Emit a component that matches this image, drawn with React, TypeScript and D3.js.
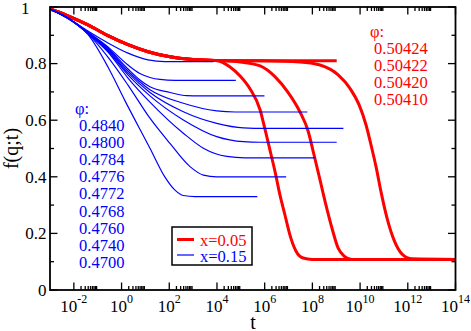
import React from "react";
import * as d3 from "d3";

const W = 471, H = 331;
const X0 = 50, X1 = 455.5, Y0 = 7, Y1 = 290;

// axis ticks
const yMajor = [0, 0.2, 0.4, 0.6, 0.8, 1];
const yTickLabels = ["0", "0.2", "0.4", "0.6", "0.8", "1"];
const yMinor = [0.1, 0.3, 0.5, 0.7, 0.9];
const xMajorExp = [-2, 0, 2, 4, 6, 8, 10, 12, 14];

// legend texts
const bluePhi = ["0.4840", "0.4800", "0.4784", "0.4776", "0.4772", "0.4768", "0.4760", "0.4740", "0.4700"];
const redPhi = ["0.50424", "0.50422", "0.50420", "0.50410"];

// data: [log10 t, f(q;t)]
// x = 0.05 (red)
const redShort: [number, number][] = [[-3, 0.993], [-2.25, 0.969], [-1.41, 0.937], [-0.57, 0.899], [0.27, 0.867], [1.11, 0.842], [2.03, 0.824], [2.87, 0.815], [3.96, 0.811]];
const red50424: [number, number][] = [[6.5, 0.810], [9.02, 0.810]];
const red50422: [number, number][] = [[5.5, 0.810], [7.48, 0.806], [8.32, 0.795], [9.08, 0.760], [9.58, 0.712], [9.96, 0.654], [10.25, 0.583], [10.46, 0.512], [10.67, 0.435], [10.88, 0.346], [11.13, 0.254], [11.42, 0.177], [11.76, 0.127], [12.18, 0.110], [14, 0.108]];
const red50420: [number, number][] = [[4.97, 0.806], [5.81, 0.792], [6.43, 0.754], [6.98, 0.698], [7.48, 0.629], [7.82, 0.562], [8.07, 0.477], [8.32, 0.389], [8.57, 0.300], [8.82, 0.219], [9.08, 0.148], [9.33, 0.120], [9.66, 0.108], [14, 0.108]];
const red50410: [number, number][] = [[4.55, 0.788], [4.97, 0.756], [5.39, 0.710], [5.81, 0.636], [6.01, 0.569], [6.22, 0.495], [6.43, 0.420], [6.64, 0.336], [6.85, 0.265], [7.06, 0.194], [7.31, 0.138], [7.61, 0.113], [7.99, 0.108], [14, 0.108]];

// x = 0.15 (blue)
const blue4840: [number, number][] = [[-3, 0.993], [-2.25, 0.961], [-1.41, 0.915], [-0.57, 0.873], [0.27, 0.837], [1.11, 0.813], [1.82, 0.807], [3.85, 0.807]];
const blue4800: [number, number][] = [[-3, 0.993], [-2.25, 0.961], [-1.41, 0.912], [-0.57, 0.859], [0.27, 0.795], [0.77, 0.765], [1.19, 0.751], [1.61, 0.744], [2.24, 0.741], [4.79, 0.741]];
const blue4784: [number, number][] = [[-3, 0.993], [-2.25, 0.961], [-1.41, 0.910], [-0.57, 0.855], [0.27, 0.781], [0.77, 0.742], [1.19, 0.718], [2.03, 0.698], [2.73, 0.687], [3.29, 0.686], [5.99, 0.686]];
const blue4776: [number, number][] = [[-3, 0.993], [-2.25, 0.961], [-1.41, 0.908], [-0.57, 0.852], [0.27, 0.774], [1.19, 0.708], [2.59, 0.660], [3.99, 0.633], [4.76, 0.629], [7.79, 0.629]];
const blue4772: [number, number][] = [[-3, 0.993], [-2.25, 0.961], [-1.41, 0.908], [-0.57, 0.848], [0.27, 0.767], [1.19, 0.698], [2.59, 0.630], [3.99, 0.589], [5.11, 0.573], [6.02, 0.571], [9.30, 0.571]];
const blue4768: [number, number][] = [[-3, 0.993], [-2.25, 0.961], [-1.41, 0.908], [-0.57, 0.845], [0.27, 0.760], [1.19, 0.686], [2.59, 0.601], [3.99, 0.542], [5.11, 0.524], [5.81, 0.522], [9.02, 0.522]];
const blue4760: [number, number][] = [[-3, 0.993], [-2.25, 0.961], [-1.41, 0.906], [-0.57, 0.841], [0.27, 0.749], [1.19, 0.664], [2.59, 0.554], [3.43, 0.501], [4.41, 0.472], [5.18, 0.467], [8.12, 0.467]];
const blue4740: [number, number][] = [[-3, 0.993], [-2.25, 0.959], [-1.41, 0.905], [-0.57, 0.823], [0.27, 0.724], [1.19, 0.607], [2.03, 0.518], [2.87, 0.436], [3.43, 0.406], [3.99, 0.400], [6.90, 0.400]];
const blue4700: [number, number][] = [[-3, 0.993], [-2.25, 0.959], [-1.41, 0.903], [-0.57, 0.788], [0.13, 0.671], [1.19, 0.501], [1.82, 0.399], [2.24, 0.353], [2.59, 0.334], [3.08, 0.330], [5.69, 0.330]];

const redCurves = [
  redShort.concat(red50424),
  redShort.concat(red50422),
  redShort.concat(red50420),
  redShort.concat(red50410),
];
const blueCurves = [blue4840, blue4800, blue4784, blue4776, blue4772, blue4768, blue4760, blue4740, blue4700];

const FONT = "'Liberation Serif', 'Times New Roman', serif";
const RED = "#ff0000";
const BLUE = "#0000ff";

export default function App() {
  const x = d3.scaleLog().domain([1e-3, 1e14]).range([X0, X1]);
  const y = d3.scaleLinear().domain([0, 1]).range([Y1, Y0]);
  const line = d3
    .line<[number, number]>()
    .x((d) => x(Math.pow(10, d[0])))
    .y((d) => y(d[1]))
    .curve(d3.curveMonotoneX);

  const xMinor: number[] = [];
  xMajorExp.forEach((e) => {
    for (let k = 2; k <= 9; k++) {
      const v = k * Math.pow(10, e);
      if (v < 1e14) xMinor.push(v);
    }
  });

  const MAJ = 7.5, MIN = 4;

  return (
    <svg width={W} height={H} style={{ position: "absolute", left: 0, top: 0, background: "#fff" }} fontFamily={FONT}>
      <defs>
        <clipPath id="plot">
          <rect x={X0} y={Y0} width={X1 - X0} height={Y1 - Y0} />
        </clipPath>
      </defs>
      <rect x={0} y={0} width={W} height={H} fill="#fff" />

      <g clipPath="url(#plot)">
        {redCurves.map((c, i) => (
          <path key={"r" + i} d={line(c) || ""} fill="none" stroke={RED} strokeWidth={3} strokeLinejoin="round" />
        ))}
        {blueCurves.map((c, i) => (
          <path key={"b" + i} d={line(c) || ""} fill="none" stroke={BLUE} strokeWidth={1.2} />
        ))}
      </g>

      {/* ticks */}
      <g stroke="#000" strokeWidth={1.3}>
        {xMajorExp.map((e) => {
          const px = x(Math.pow(10, e));
          return (
            <g key={"xm" + e}>
              <line x1={px} x2={px} y1={Y1} y2={Y1 - MAJ} />
              <line x1={px} x2={px} y1={Y0} y2={Y0 + MAJ} />
            </g>
          );
        })}
        {xMinor.map((v, i) => {
          const px = x(v);
          return (
            <g key={"xn" + i}>
              <line x1={px} x2={px} y1={Y1} y2={Y1 - MIN} />
              <line x1={px} x2={px} y1={Y0} y2={Y0 + MIN} />
            </g>
          );
        })}
        {yMajor.map((v) => (
          <g key={"ym" + v}>
            <line x1={X0} x2={X0 + MAJ} y1={y(v)} y2={y(v)} />
            <line x1={X1} x2={X1 - MAJ} y1={y(v)} y2={y(v)} />
          </g>
        ))}
        {yMinor.map((v) => (
          <g key={"yn" + v}>
            <line x1={X0} x2={X0 + MIN} y1={y(v)} y2={y(v)} />
            <line x1={X1} x2={X1 - MIN} y1={y(v)} y2={y(v)} />
          </g>
        ))}
      </g>
      <rect x={X0} y={Y0} width={X1 - X0} height={Y1 - Y0} fill="none" stroke="#000" strokeWidth={1.8} />

      {/* tick labels */}
      <g fontSize={17} fill="#000">
        {yMajor.map((v, i) => (
          <text key={"yl" + v} x={v === 1 ? 29.5 : 46.5} y={y(v) + (v === 1 ? 6.5 : 5.8)} textAnchor="end">
            {yTickLabels[i]}
          </text>
        ))}
        {xMajorExp.map((e) => (
          <text key={"xl" + e} x={x(Math.pow(10, e))} y={311.5} textAnchor="middle">
            10
            <tspan dy={-8.5} fontSize={12}>
              {String(e)}
            </tspan>
          </text>
        ))}
      </g>

      {/* axis titles */}
      <text x={253} y={328.5} fontSize={20} textAnchor="middle">t</text>
      <text transform={`translate(18,${(Y0 + Y1) / 2}) rotate(-90)`} fontSize={20} textAnchor="middle">
        f(q;t)
      </text>

      {/* blue phi annotation */}
      <g fontSize={16.5} fill={BLUE}>
        <text x={75} y={114}>φ:</text>
        {bluePhi.map((s, i) => (
          <text key={s} x={79} y={131 + i * 17.1}>{s}</text>
        ))}
      </g>
      {/* red phi annotation */}
      <g fontSize={16.5} fill={RED}>
        <text x={370} y={37}>φ:</text>
        {redPhi.map((s, i) => (
          <text key={s} x={374} y={54 + i * 17}>{s}</text>
        ))}
      </g>

      {/* legend */}
      <rect x={172} y={227} width={80} height={38} fill="#fff" stroke="#000" strokeWidth={1.5} />
      <line x1={177} x2={194} y1={239.5} y2={239.5} stroke={RED} strokeWidth={3} />
      <line x1={177} x2={194} y1={255} y2={255} stroke={BLUE} strokeWidth={1.2} />
      <text x={200} y={245.5} fontSize={16.5} fill={RED}>x=0.05</text>
      <text x={200} y={261.5} fontSize={16.5} fill={BLUE}>x=0.15</text>
    </svg>
  );
}
